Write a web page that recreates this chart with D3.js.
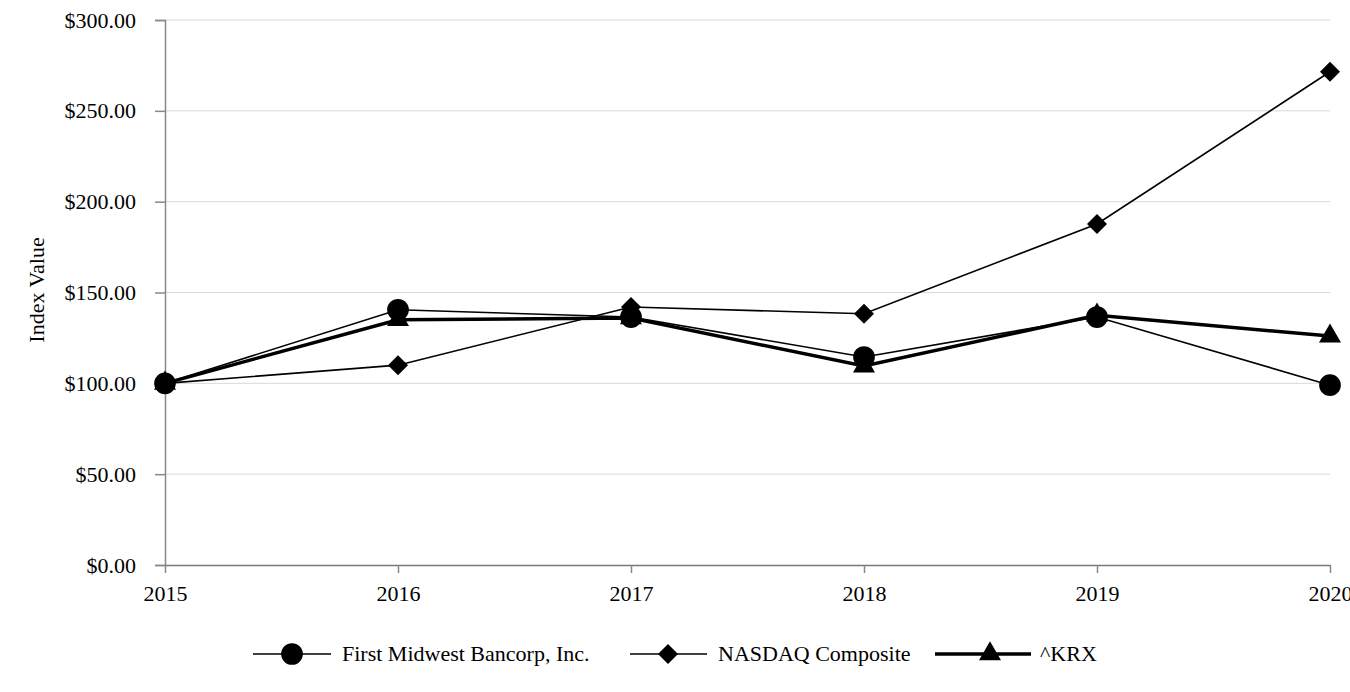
<!DOCTYPE html>
<html><head><meta charset="utf-8">
<script src="https://cdn.jsdelivr.net/npm/d3@7"></script>
<style>body{margin:0;background:#fff}svg{display:block}</style>
</head><body><svg id="c" width="1350" height="692"></svg>
<script>
const years = ["2015","2016","2017","2018","2019","2020"];
const firstMidwest = [100.0, 140.5, 136.5, 114.5, 136.5, 99.0];
const nasdaq = [100.0, 110.0, 142.0, 138.3, 187.7, 271.5];
const krx = [100.0, 135.0, 136.0, 109.5, 137.5, 126.0];
const yTicks = [0, 50, 100, 150, 200, 250, 300];
const seriesNames = ["First Midwest Bancorp, Inc.", "NASDAQ Composite", "^KRX"];

const svg = d3.select("#c");
const font = "'Liberation Serif','Times New Roman',serif";
const fs = 22;
const x = d3.scalePoint().domain(years).range([165, 1330]);
const y = d3.scaleLinear().domain([0, 300]).range([565, 20]);

// gridlines
svg.append("g").selectAll("line").data(yTicks.filter(d => d > 0)).join("line")
  .attr("x1", 165).attr("x2", 1330).attr("y1", d => y(d)).attr("y2", d => y(d))
  .attr("stroke", "#d9d9d9").attr("stroke-width", 1);

// y axis
const ya = svg.append("g").attr("transform", "translate(165,0)")
  .call(d3.axisLeft(y).tickValues(yTicks).tickSize(10).tickFormat(d => "$" + d3.format(".2f")(d)));
ya.select(".domain").attr("stroke", "#888").attr("stroke-width", 1.5);
ya.selectAll(".tick line").attr("stroke", "#888").attr("stroke-width", 1.5);
ya.selectAll("text").attr("font-family", font).attr("font-size", fs).attr("fill", "#000").attr("x", -29);

// x axis
const xa = svg.append("g").attr("transform", "translate(0,565)")
  .call(d3.axisBottom(x).tickSize(8).tickSizeOuter(0));
xa.select(".domain").attr("stroke", "#777").attr("stroke-width", 1.5);
xa.selectAll(".tick line").attr("stroke", "#888").attr("stroke-width", 1.5);
xa.selectAll("text").attr("font-family", font).attr("font-size", fs).attr("fill", "#000").attr("y", 20);

svg.append("text").attr("transform", "translate(44,290) rotate(-90)")
  .attr("text-anchor", "middle").attr("font-family", font).attr("font-size", fs).text("Index Value");

const diamond = { draw(ctx, size) { const r = Math.sqrt(size / 2); ctx.moveTo(0, -r); ctx.lineTo(r, 0); ctx.lineTo(0, r); ctx.lineTo(-r, 0); ctx.closePath(); } };
const series = [
  {name: seriesNames[0], vals: firstMidwest, w: 1.6, sym: d3.symbolCircle, size: 370},
  {name: seriesNames[1], vals: nasdaq, w: 1.6, sym: diamond, size: 200},
  {name: seriesNames[2], vals: krx, w: 3.5, sym: d3.symbolTriangle, size: 210}
];
const line = d3.line().x((d, i) => x(years[i])).y(d => y(d));

series.forEach(s => {
  svg.append("path").attr("d", line(s.vals)).attr("fill", "none").attr("stroke", "#000").attr("stroke-width", s.w);
});
series.forEach(s => {
  svg.append("g").selectAll("path").data(s.vals).join("path")
    .attr("d", d3.symbol().type(s.sym).size(s.size))
    .attr("transform", (d, i) => `translate(${x(years[i])},${y(d)})`)
    .attr("fill", "#000");
});

// legend
const leg = [
  {x1: 253, x2: 331, mx: 292, tx: 342},
  {x1: 630, x2: 707, mx: 668, tx: 718},
  {x1: 935, x2: 1031, mx: 990, tx: 1040}
];
series.forEach((s, i) => {
  const L = leg[i], ly = 654;
  svg.append("line").attr("x1", L.x1).attr("x2", L.x2).attr("y1", ly).attr("y2", ly)
    .attr("stroke", "#000").attr("stroke-width", s.w);
  svg.append("path").attr("d", d3.symbol().type(s.sym).size(s.size))
    .attr("transform", `translate(${L.mx},${ly})`).attr("fill", "#000");
  svg.append("text").attr("x", L.tx).attr("y", ly + 7).attr("font-family", font).attr("font-size", fs).text(s.name);
});
</script></body></html>
